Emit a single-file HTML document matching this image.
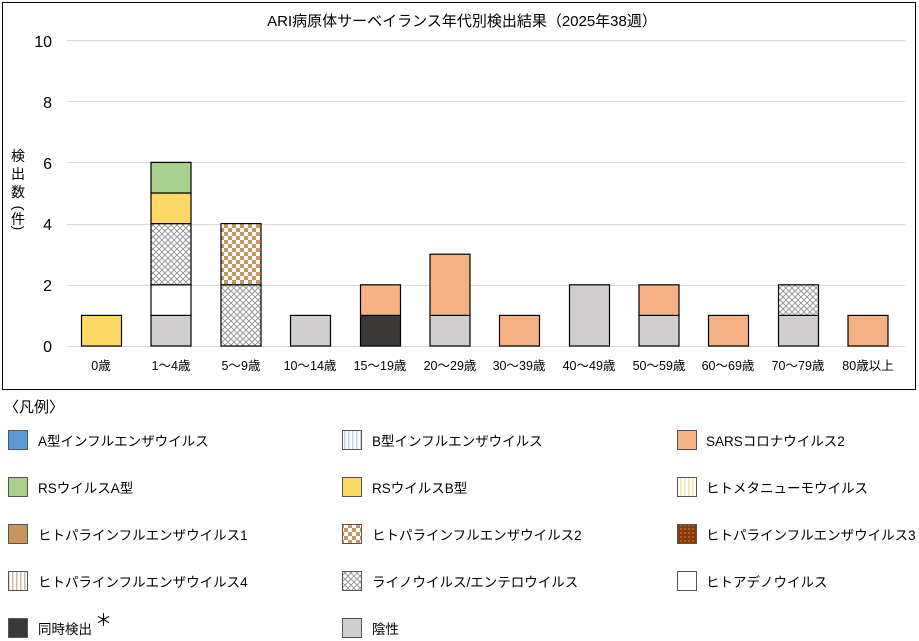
<!DOCTYPE html>
<html><head><meta charset="utf-8"><style>
body{margin:0;background:#fff;}
svg{display:block;font-family:"Liberation Sans","Noto Sans CJK JP",sans-serif;}
</style></head><body>
<svg width="919" height="641" viewBox="0 0 919 641" xmlns="http://www.w3.org/2000/svg">
<defs>
<pattern id="rh" width="6" height="6" patternUnits="userSpaceOnUse">
<rect width="6" height="6" fill="#fff"/>
<path d="M0 0L6 6M6 0L0 6" stroke="#999" stroke-width="1"/>
</pattern>
<pattern id="p2" width="8" height="8" patternUnits="userSpaceOnUse">
<rect width="8" height="8" fill="#fff"/>
<rect width="4" height="4" fill="#C9955C"/><rect x="4" y="4" width="4" height="4" fill="#C9955C"/>
</pattern>
<pattern id="p3" width="4" height="4" patternUnits="userSpaceOnUse">
<rect width="4" height="4" fill="#843C0C"/><rect width="2" height="2" fill="#C55A11"/>
</pattern>
<pattern id="p4" width="4" height="4" patternUnits="userSpaceOnUse">
<rect width="4" height="4" fill="#fff"/><rect width="1.5" height="4" fill="#D6B8A0"/>
</pattern>
<pattern id="bv" width="4" height="4" patternUnits="userSpaceOnUse">
<rect width="4" height="4" fill="#fff"/><rect width="1.5" height="4" fill="#BDD7EE"/>
</pattern>
<pattern id="hm" width="4" height="4" patternUnits="userSpaceOnUse">
<rect width="4" height="4" fill="#fff"/><rect width="1.5" height="4" fill="#F4E3A0"/>
</pattern>
</defs>
<rect x="2.5" y="2.5" width="913" height="387" fill="#fff" stroke="#000" stroke-width="1"/>
<text x="462" y="26" font-size="15" text-anchor="middle">ARI病原体サーベイランス年代別検出結果（2025年38週）</text>
<g stroke="#d9d9d9" stroke-width="1">
<line x1="67" y1="40.5" x2="905" y2="40.5"/>
<line x1="67" y1="101.5" x2="905" y2="101.5"/>
<line x1="67" y1="162.5" x2="905" y2="162.5"/>
<line x1="67" y1="224.5" x2="905" y2="224.5"/>
<line x1="67" y1="285.5" x2="905" y2="285.5"/>
<line x1="67" y1="346.5" x2="905" y2="346.5"/>
</g>
<g font-size="16" text-anchor="end">
<text x="52" y="47">10</text><text x="52" y="108">8</text><text x="52" y="169">6</text>
<text x="52" y="230">4</text><text x="52" y="291">2</text><text x="52" y="352">0</text>
</g>
<g font-size="14" text-anchor="middle">
<text x="18" y="161">検</text><text x="18" y="179">出</text><text x="18" y="197">数</text>
<text x="18" y="212" transform="rotate(90 18 208)">(</text><text x="18" y="224">件</text>
<text x="18" y="232" transform="rotate(90 18 228)">)</text>
</g>
<g stroke="#000" stroke-width="1.2">
<rect x="81.5" y="315.4" width="40" height="30.6" fill="#FFD966"/>
<rect x="151" y="315.4" width="40" height="30.6" fill="#D0CECE"/>
<rect x="151" y="284.8" width="40" height="30.6" fill="#fff"/>
<rect x="151" y="223.6" width="40" height="61.2" fill="url(#rh)"/>
<rect x="151" y="193" width="40" height="30.6" fill="#FFD966"/>
<rect x="151" y="162.4" width="40" height="30.6" fill="#A9D18E"/>
<rect x="221" y="284.8" width="40" height="61.2" fill="url(#rh)"/>
<rect x="221" y="223.6" width="40" height="61.2" fill="url(#p2)"/>
<rect x="290.5" y="315.4" width="40" height="30.6" fill="#D0CECE"/>
<rect x="360.5" y="315.4" width="40" height="30.6" fill="#3B3838"/>
<rect x="360.5" y="284.8" width="40" height="30.6" fill="#F4B183"/>
<rect x="430" y="315.4" width="40" height="30.6" fill="#D0CECE"/>
<rect x="430" y="254.2" width="40" height="61.2" fill="#F4B183"/>
<rect x="499.5" y="315.4" width="40" height="30.6" fill="#F4B183"/>
<rect x="569.5" y="284.8" width="40" height="61.2" fill="#D0CECE"/>
<rect x="639" y="315.4" width="40" height="30.6" fill="#D0CECE"/>
<rect x="639" y="284.8" width="40" height="30.6" fill="#F4B183"/>
<rect x="708.5" y="315.4" width="40" height="30.6" fill="#F4B183"/>
<rect x="778.5" y="315.4" width="40" height="30.6" fill="#D0CECE"/>
<rect x="778.5" y="284.8" width="40" height="30.6" fill="url(#rh)"/>
<rect x="848" y="315.4" width="40" height="30.6" fill="#F4B183"/>
</g>
<g font-size="12.5" text-anchor="middle">
<text x="101" y="370">0歳</text><text x="171" y="370">1～4歳</text><text x="241" y="370">5～9歳</text>
<text x="310" y="370">10～14歳</text><text x="380" y="370">15～19歳</text><text x="450" y="370">20～29歳</text>
<text x="519" y="370">30～39歳</text><text x="589" y="370">40～49歳</text><text x="659" y="370">50～59歳</text>
<text x="728" y="370">60～69歳</text><text x="798" y="370">70～79歳</text><text x="868" y="370">80歳以上</text>
</g>
<text x="4" y="412" font-size="15">〈凡例〉</text>
<g stroke="#555" stroke-width="1">
<rect x="8.5" y="430.5" width="19" height="19" fill="#5B9BD5"/>
<rect x="8.5" y="477.5" width="19" height="19" fill="#A9D18E"/>
<rect x="8.5" y="524.5" width="19" height="19" fill="#C9955C"/>
<rect x="8.5" y="571.5" width="19" height="19" fill="url(#p4)"/>
<rect x="8.5" y="618.5" width="19" height="19" fill="#3B3838"/>
<rect x="342.5" y="430.5" width="19" height="19" fill="url(#bv)"/>
<rect x="342.5" y="477.5" width="19" height="19" fill="#FFD966"/>
<rect x="342.5" y="524.5" width="19" height="19" fill="url(#p2)"/>
<rect x="342.5" y="571.5" width="19" height="19" fill="url(#rh)"/>
<rect x="342.5" y="618.5" width="19" height="19" fill="#D0CECE"/>
<rect x="677.5" y="430.5" width="19" height="19" fill="#F4B183"/>
<rect x="677.5" y="477.5" width="19" height="19" fill="url(#hm)"/>
<rect x="677.5" y="524.5" width="19" height="19" fill="url(#p3)"/>
<rect x="677.5" y="571.5" width="19" height="19" fill="#fff"/>
</g>
<g font-size="13.5">
<text x="38" y="446">A型インフルエンザウイルス</text>
<text x="38" y="493">RSウイルスA型</text>
<text x="38" y="540">ヒトパラインフルエンザウイルス1</text>
<text x="38" y="587">ヒトパラインフルエンザウイルス4</text>
<text x="38" y="634">同時検出</text>
<text x="95" y="626" font-size="17">＊</text>
<text x="372" y="446">B型インフルエンザウイルス</text>
<text x="372" y="493">RSウイルスB型</text>
<text x="372" y="540">ヒトパラインフルエンザウイルス2</text>
<text x="372" y="587">ライノウイルス/エンテロウイルス</text>
<text x="372" y="634">陰性</text>
<text x="706" y="446">SARSコロナウイルス2</text>
<text x="706" y="493">ヒトメタニューモウイルス</text>
<text x="706" y="540">ヒトパラインフルエンザウイルス3</text>
<text x="706" y="587">ヒトアデノウイルス</text>
</g>
</svg>
</body></html>
